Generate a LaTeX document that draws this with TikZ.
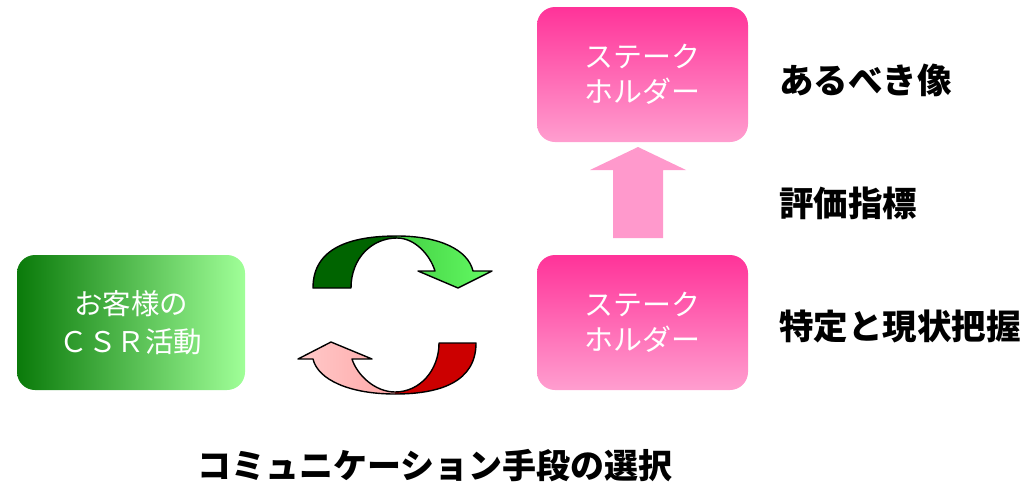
\documentclass[tikz,border=0pt]{standalone}
\usepackage{fontspec}
\newfontfamily\jp{Noto Sans CJK JP}
\definecolor{pinkTop}{HTML}{FF3399}
\definecolor{pinkBot}{HTML}{FF9ECF}
\definecolor{pinkArrow}{HTML}{FF99CC}
\definecolor{gDark}{HTML}{0A7A0A}
\definecolor{gMid}{HTML}{74D474}
\definecolor{gLight}{HTML}{A0FF98}
\definecolor{arDark}{HTML}{006400}
\definecolor{arMid}{HTML}{44D044}
\definecolor{arLight}{HTML}{66FF66}
\definecolor{rDark}{HTML}{CC0000}
\definecolor{rLight}{HTML}{FFCCCC}
\definecolor{rMid}{HTML}{FFA8A8}
\tikzset{
  pinkbox/.style={rounded corners=18pt, minimum width=211pt, minimum height=135pt,
    top color=pinkTop, bottom color=pinkBot, draw=none, text=white,
    font=\jp\fontsize{29}{35}\selectfont, align=center, inner sep=0pt},
  greenbox/.style={rounded corners=18pt, minimum width=228pt, minimum height=135pt,
    left color=gDark, middle color=gMid, right color=gLight, draw=none, text=white,
    font=\jp\fontsize{28.5}{38}\selectfont, align=center, inner sep=0pt},
  label/.style={font=\jp\bfseries\fontsize{34.5}{36}\selectfont, text=black, inner sep=0pt, anchor=west},
  outl/.style={draw=black, line width=1.4pt, line join=round}
}
\begin{document}
\begin{tikzpicture}[x=1pt,y=-1pt]
\useasboundingbox (0,0) rectangle (1035,485);
% boxes
\node[pinkbox] (top) at (642.5,74.5) {ステーク\\ホルダー};
\node[pinkbox] (bot) at (642.5,322.5) {ステーク\\ホルダー};
\node[greenbox] (csr) at (131,322.5) {お客様の\\ＣＳＲ活動};
% up arrow
\fill[pinkArrow] (613,238) -- (613,170) -- (590,170) -- (638,147) -- (686,170) -- (663,170) -- (663,238) -- cycle;
% labels
\node[label] (l1) at (779,80) {あるべき像};
\node[label] (l2) at (779,203) {評価指標};
\node[label] (l3) at (779,326) {特定と現状把握};
\node[font=\jp\bfseries\fontsize{34}{36}\selectfont, inner sep=0pt] (l4) at (435,466) {コミュニケーション手段の選択};
% green circular arrow
\def\garrow{(313,288) .. controls (313,248) and (350,236) .. (397,236)
  .. controls (440,236) and (468,250) .. (473,271)
  -- (492,271) -- (458,288) -- (418,271) -- (435,271)
  .. controls (430,255) and (415,238) .. (397,238)
  .. controls (372,238) and (351,258) .. (351,288) -- cycle}
\begin{scope}
\clip \garrow;
\fill[arDark] (300,225) rectangle (397,295);
\shade[left color=arMid, right color=arLight] (397,225) rectangle (500,295);
\end{scope}
\draw[outl] \garrow;
% red circular arrow
\def\rarrow{(476,343) .. controls (476,382) and (440,394) .. (395,394)
  .. controls (350,394) and (318,380) .. (313,359)
  -- (298,359) -- (331,342) -- (372,359) -- (352,359)
  .. controls (357,375) and (375,392) .. (395,392)
  .. controls (420,392) and (439,370) .. (439,343) -- cycle}
\begin{scope}
\clip \rarrow;
\fill[rDark] (395,335) rectangle (485,400);
\shade[left color=rLight, right color=rMid] (290,335) rectangle (395,400);
\end{scope}
\draw[outl] \rarrow;
\end{tikzpicture}
\end{document}
